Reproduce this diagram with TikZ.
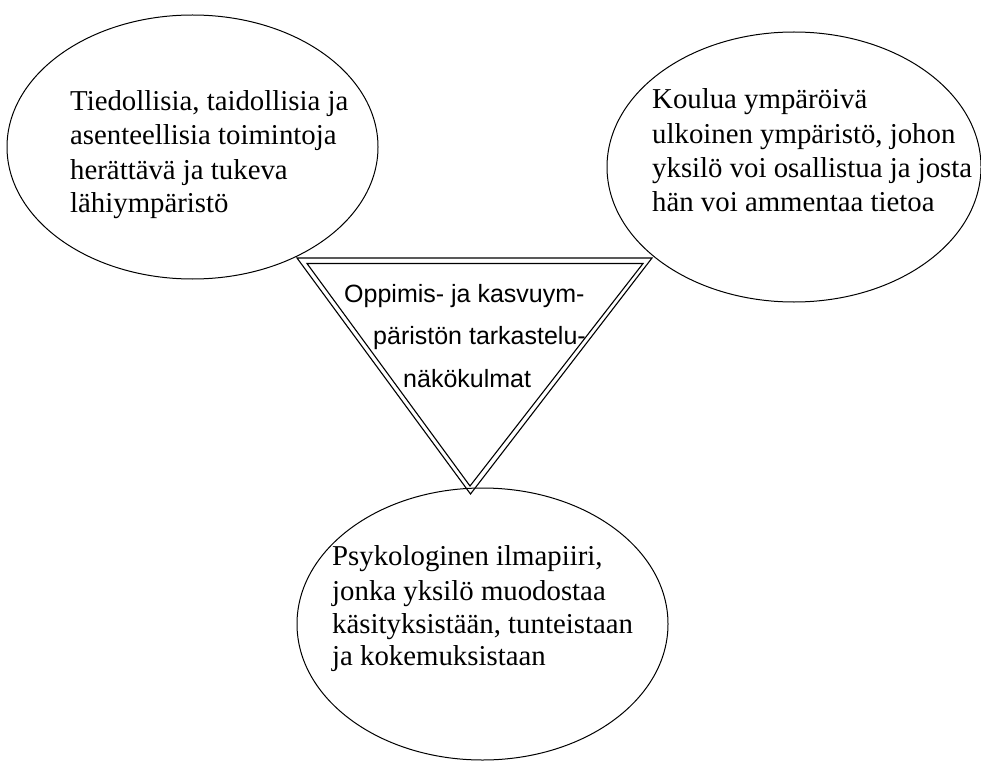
\documentclass[tikz,border=0pt]{standalone}
\usepackage{fontspec}
\setmainfont{Liberation Serif}
\newfontfamily\arialfont{Liberation Sans}
\usetikzlibrary{shapes.geometric}
\begin{document}
\begin{tikzpicture}[x=1pt,y=-1pt,
  bubble/.style={draw=black, line width=1pt, ellipse, inner sep=0pt},
  stext/.style={anchor=base west, inner sep=0pt, font=\fontsize{28.8}{34}\selectfont},
  atext/.style={anchor=base west, inner sep=0pt, font=\arialfont\fontsize{25}{30}\selectfont},
  tri/.style={draw=black, line width=1.1pt, line join=miter}]
\useasboundingbox (0,0) rectangle (981,762);

% triangle (double outline)
\coordinate (oa) at (297,258);
\coordinate (ob) at (652,258);
\coordinate (oc) at (470.5,494);
\coordinate (ia) at (307,263.5);
\coordinate (ib) at (643,263.5);
\coordinate (ic) at (470,486);
\draw[tri] (oa) -- (ob) -- (oc) -- cycle;
\draw[tri] (ia) -- (ib) -- (ic) -- cycle;

% ellipses
\node[bubble, minimum width=371pt, minimum height=264pt] (e1) at (192.5,147) {};
\node[bubble, minimum width=374pt, minimum height=270pt] (e2) at (794,167) {};
\node[bubble, minimum width=371pt, minimum height=272pt] (e3) at (482.5,624) {};

% top-left text
\node[stext] (l1a) at (70,111) {Tiedollisia, taidollisia ja};
\node[stext] (l1b) at (70,145) {asenteellisia toimintoja};
\node[stext] (l1c) at (70,179) {herättävä ja tukeva};
\node[stext] (l1d) at (70,212) {lähiympäristö};

% top-right text
\node[stext] (l2a) at (652,109) {Koulua ympäröivä};
\node[stext] (l2b) at (652,144) {ulkoinen ympäristö, johon};
\node[stext] (l2c) at (652,177) {yksilö voi osallistua ja josta};
\node[stext] (l2d) at (652,211) {hän voi ammentaa tietoa};

% bottom text
\node[stext] (l3a) at (332,565) {Psykologinen ilmapiiri,};
\node[stext] (l3b) at (332,600) {jonka yksilö muodostaa};
\node[stext] (l3c) at (332,633) {käsityksistään, tunteistaan};
\node[stext] (l3d) at (332,665) {ja kokemuksistaan};

% triangle text
\node[atext] (m1) at (344,302) {Oppimis- ja kasvuym-};
\node[atext] (m2) at (373,344) {päristön tarkastelu-};
\node[atext] (m3) at (403,387) {näkökulmat};
\end{tikzpicture}
\end{document}
